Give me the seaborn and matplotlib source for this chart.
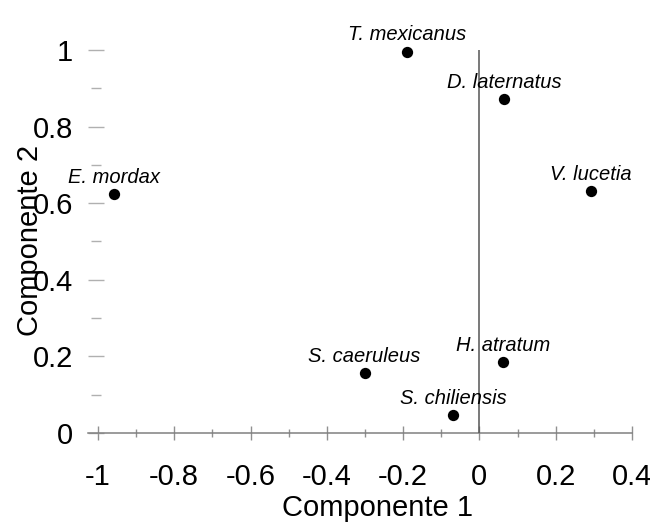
import matplotlib
matplotlib.use("Agg")
import matplotlib.pyplot as plt
from matplotlib.ticker import MultipleLocator, FixedFormatter, FixedLocator
import pandas as pd
import seaborn as sns

# species labels and PCA scores
species = ["T. mexicanus", "D. laternatus", "V. lucetia", "E. mordax",
           "S. caeruleus", "H. atratum", "S. chiliensis"]
comp1 = [-0.189, 0.065, 0.293, -0.957, -0.301, 0.062, -0.069]
comp2 = [0.996, 0.872, 0.632, 0.623, 0.156, 0.185, 0.046]

x_ticks = [-1, -0.8, -0.6, -0.4, -0.2, 0, 0.2, 0.4]
x_tick_labels = ["-1", "-0.8", "-0.6", "-0.4", "-0.2", "0", "0.2", "0.4"]
y_ticks = [0, 0.2, 0.4, 0.6, 0.8, 1]
y_tick_labels = ["0", "0.2", "0.4", "0.6", "0.8", "1"]

df = pd.DataFrame({"species": species, "Componente 1": comp1, "Componente 2": comp2})

sns.set_style("white")
plt.rcParams["font.family"] = ["Liberation Sans", "DejaVu Sans"]
plt.rcParams["text.color"] = "black"

fig = plt.figure(figsize=(6.5, 5.31), dpi=100)
ax = fig.add_axes([88 / 650, 98 / 531, 544 / 650, 383 / 531])

sns.scatterplot(data=df, x="Componente 1", y="Componente 2", ax=ax,
                color="black", s=66, edgecolor="black", linewidth=0,
                clip_on=False, zorder=5)

ax.set_xlim(-1.026, 0.4)
ax.set_ylim(0, 1)

# axes crossing: horizontal line at y=0, vertical line at x=0
for side in ["top", "right", "left"]:
    ax.spines[side].set_visible(False)
ax.spines["bottom"].set_position(("data", 0))
ax.spines["bottom"].set_color("#808080")
ax.spines["bottom"].set_linewidth(1.1)
ax.plot([0, 0], [0, 1], color="#555555", lw=1.1, zorder=3)

ax.spines["left"].set_position(("data", -1.004))

ax.xaxis.set_major_locator(FixedLocator(x_ticks))
ax.xaxis.set_major_formatter(FixedFormatter(x_tick_labels))
ax.xaxis.set_minor_locator(MultipleLocator(0.1))
ax.yaxis.set_major_locator(FixedLocator(y_ticks))
ax.yaxis.set_major_formatter(FixedFormatter(y_tick_labels))
ax.yaxis.set_minor_locator(MultipleLocator(0.1))

ax.tick_params(axis="x", which="major", direction="inout", length=9.4, width=1,
               color="#909090", labelcolor="black", labelsize=21, pad=17, bottom=True)
ax.tick_params(axis="x", which="minor", direction="inout", length=5.3, width=1,
               color="#909090", bottom=True)
ax.tick_params(axis="y", which="major", direction="inout", length=11.5, width=1,
               color="#b0b0b0", labelcolor="black", labelsize=21, pad=11, left=True)
ax.tick_params(axis="y", which="minor", direction="inout", length=7.7, width=1,
               color="#b0b0b0", left=True)

ax.set_xlabel("")
ax.set_ylabel("")
fig.text(377 / 650, 1 - 508 / 531, "Componente 1", ha="center", va="center",
         fontsize=21, color="black")
fig.text(30 / 650, 1 - 240 / 531, "Componente 2", ha="center", va="center",
         rotation=90, fontsize=21, color="black")

for name, xv, yv in zip(species, comp1, comp2):
    ax.annotate(name, (xv, yv), xytext=(0, 8), textcoords="offset points",
                ha="center", va="baseline", fontsize=14.5, style="italic",
                color="black", annotation_clip=False, zorder=6)

fig.savefig("out.png", dpi=100)
